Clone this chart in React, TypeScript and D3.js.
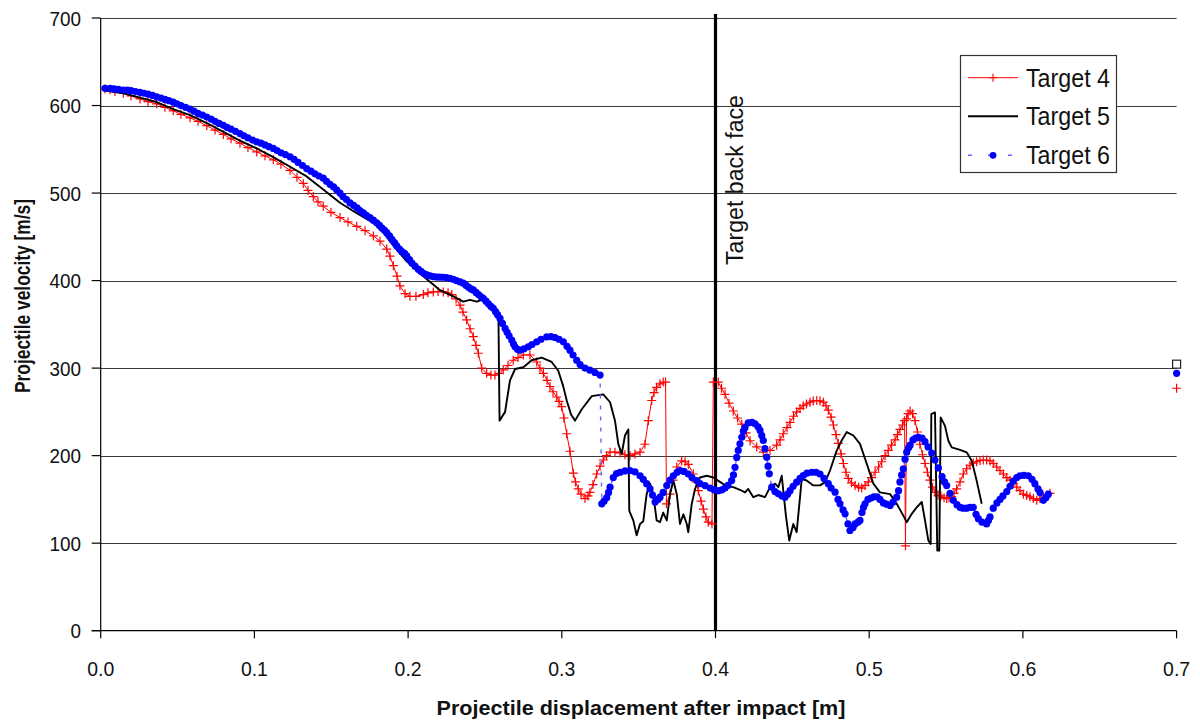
import React from 'react';
import * as d3 from 'd3';

type Pt = [number, number];

const X_TICKS = [0, 0.1, 0.2, 0.3, 0.4, 0.5, 0.6, 0.7];
const X_TICK_LABELS = ['0.0', '0.1', '0.2', '0.3', '0.4', '0.5', '0.6', '0.7'];
const Y_TICKS = [0, 100, 200, 300, 400, 500, 600, 700];
const SERIES_NAMES = ['Target 4', 'Target 5', 'Target 6'];
const X_TITLE = 'Projectile displacement after impact [m]';
const Y_TITLE = 'Projectile velocity [m/s]';
const BACK_FACE_LABEL = 'Target back face';
const BACK_FACE_X = 0.4;

const target4: Pt[] = [
  [0.0028, 619], [0.0061, 618], [0.0093, 616], [0.0147, 614], [0.0197, 611], [0.0256, 607.5], [0.0308, 604.5],
  [0.0364, 602], [0.0418, 598], [0.0472, 594], [0.0522, 590], [0.0581, 586], [0.0633, 582], [0.069, 577],
  [0.0744, 572], [0.0798, 567], [0.0848, 562], [0.0906, 557], [0.0958, 552], [0.1015, 547], [0.1069, 542.5],
  [0.1123, 538], [0.1173, 533], [0.1232, 526], [0.1277, 518], [0.1318, 511], [0.1349, 503], [0.1383, 496],
  [0.1414, 490], [0.1448, 485], [0.1498, 478], [0.1557, 472], [0.1609, 467], [0.1666, 462], [0.172, 457],
  [0.1774, 451], [0.1817, 445], [0.1861, 436], [0.1882, 428], [0.1904, 417], [0.1928, 405], [0.1947, 394],
  [0.198, 385], [0.2012, 382], [0.2051, 382], [0.2099, 384], [0.2129, 386], [0.2164, 387], [0.2195, 387.5],
  [0.2229, 387], [0.226, 386], [0.2284, 384], [0.2312, 379], [0.2338, 372], [0.2357, 364], [0.2381, 355],
  [0.2403, 345], [0.2424, 336], [0.2442, 326], [0.2457, 317], [0.2479, 300], [0.2511, 294], [0.2539, 292],
  [0.2565, 292], [0.2591, 294], [0.2619, 298], [0.265, 303], [0.2684, 309], [0.2715, 312], [0.275, 315],
  [0.2793, 315], [0.2837, 307], [0.2858, 300], [0.288, 294], [0.2904, 286], [0.2923, 279], [0.2943, 273],
  [0.2967, 267], [0.2982, 262], [0.2999, 256], [0.3014, 243], [0.3032, 225], [0.3053, 205], [0.3075, 180],
  [0.3089, 170], [0.3107, 162], [0.3125, 156], [0.3151, 151], [0.317, 154], [0.3183, 158], [0.3203, 167],
  [0.3227, 179], [0.3249, 188], [0.327, 195], [0.3291, 200], [0.3314, 204], [0.3346, 204], [0.3379, 203],
  [0.3411, 201], [0.3444, 200], [0.3476, 202], [0.3509, 204], [0.3541, 213], [0.3563, 240], [0.3585, 263],
  [0.36, 272], [0.3617, 278], [0.3639, 282], [0.366, 284], [0.3675, 284], [0.3681, 145], [0.3704, 156],
  [0.3724, 172], [0.3748, 187], [0.378, 194], [0.3802, 193], [0.3823, 190], [0.3856, 179], [0.3873, 170],
  [0.3888, 160], [0.3906, 148], [0.3921, 139], [0.3938, 130], [0.3953, 124], [0.3977, 122], [0.3986, 284],
  [0.4018, 284], [0.4039, 277], [0.4062, 270], [0.4088, 260], [0.4116, 251], [0.4143, 243], [0.4171, 236],
  [0.4199, 226], [0.4225, 217], [0.4268, 210], [0.4311, 204], [0.4355, 206], [0.4398, 212], [0.442, 218],
  [0.4441, 225], [0.4465, 232], [0.4485, 238], [0.4508, 245], [0.4528, 250], [0.455, 254], [0.4571, 257],
  [0.4592, 259], [0.4615, 261], [0.4636, 262.5], [0.4659, 263], [0.468, 262.5], [0.4702, 261], [0.4719, 257],
  [0.4734, 252], [0.4752, 244], [0.4767, 235], [0.4784, 224], [0.4799, 214], [0.4817, 202], [0.4832, 191],
  [0.4849, 181], [0.4864, 174], [0.4885, 169], [0.4908, 166], [0.4931, 164], [0.4951, 163], [0.4973, 166],
  [0.4994, 170], [0.5015, 175], [0.5038, 181], [0.5061, 187], [0.5081, 193], [0.5103, 200], [0.5124, 206],
  [0.5145, 212], [0.5168, 218], [0.5184, 224], [0.52, 230], [0.5217, 235], [0.523, 240], [0.5236, 97],
  [0.5243, 242], [0.5253, 248], [0.5266, 251], [0.5282, 248], [0.5298, 240], [0.5314, 227], [0.533, 213],
  [0.5347, 201], [0.5363, 191], [0.5379, 181], [0.5395, 172], [0.5412, 164], [0.5428, 158], [0.5448, 155],
  [0.5467, 154], [0.5487, 152], [0.5504, 151], [0.5519, 152], [0.5537, 153], [0.5552, 157], [0.5569, 162],
  [0.5591, 170], [0.5612, 179], [0.5634, 185], [0.5656, 189], [0.5677, 191.5], [0.5699, 193], [0.5721, 194.5],
  [0.5742, 195], [0.5764, 195], [0.5786, 194], [0.5807, 191], [0.583, 187], [0.5851, 183], [0.5873, 179],
  [0.5895, 175], [0.5916, 172], [0.5938, 168], [0.596, 164], [0.5981, 160], [0.6003, 156], [0.6025, 154.5],
  [0.6046, 153], [0.6068, 151], [0.609, 149], [0.6111, 151], [0.6133, 153], [0.6155, 155], [0.6176, 157],
];

const target5: Pt[] = [
  [0.0028, 617], [0.0147, 614], [0.0256, 609], [0.0364, 604], [0.0472, 596], [0.0581, 589], [0.069, 580],
  [0.0798, 570], [0.0906, 560], [0.1015, 551], [0.1123, 541], [0.1232, 530], [0.134, 519], [0.1448, 504],
  [0.1557, 489], [0.1666, 477], [0.1774, 466], [0.1839, 455], [0.1904, 440], [0.1991, 422], [0.2099, 405],
  [0.2208, 389], [0.2294, 382], [0.2359, 376], [0.2403, 378], [0.2446, 376], [0.2479, 378], [0.2533, 374],
  [0.2565, 366], [0.2588, 356], [0.2595, 240], [0.2631, 250], [0.2663, 286], [0.2696, 299], [0.275, 301],
  [0.2804, 309], [0.2869, 312], [0.2934, 307], [0.2977, 297], [0.3008, 280], [0.3032, 263], [0.306, 247],
  [0.3086, 240], [0.313, 253], [0.3195, 268], [0.327, 270], [0.3314, 261], [0.3346, 240], [0.3368, 213],
  [0.339, 202], [0.3411, 223], [0.3433, 230], [0.3439, 137], [0.3465, 126], [0.3487, 109], [0.3509, 122],
  [0.353, 125], [0.3552, 156], [0.3574, 168], [0.3595, 156], [0.3617, 126], [0.3639, 124], [0.366, 135],
  [0.3683, 126], [0.3704, 156], [0.3726, 171.5], [0.3748, 156], [0.3769, 122], [0.3791, 133], [0.3813, 122],
  [0.3823, 112.5], [0.3845, 144.5], [0.3867, 162], [0.3899, 175], [0.3943, 177], [0.3986, 175], [0.4029, 170],
  [0.4073, 165], [0.4116, 164], [0.4159, 161], [0.4192, 158], [0.4213, 162], [0.4246, 152.5], [0.4278, 155],
  [0.4322, 152.6], [0.4355, 164], [0.4387, 168], [0.4409, 164], [0.4431, 177], [0.4441, 160], [0.4459, 130],
  [0.448, 103], [0.4506, 122], [0.4528, 112.6], [0.455, 152.6], [0.4561, 173.5], [0.4593, 171.6], [0.4636, 166],
  [0.468, 166], [0.4713, 169.7], [0.4745, 183], [0.4789, 206], [0.4821, 217.3], [0.4854, 226.9], [0.4897, 223],
  [0.494, 213.5], [0.4984, 190.7], [0.5027, 168], [0.507, 158], [0.5136, 156], [0.5179, 145], [0.5222, 131.5],
  [0.5244, 124], [0.5277, 133.5], [0.5309, 141], [0.5342, 147], [0.5363, 126], [0.5385, 103], [0.54, 99],
  [0.5404, 247.5], [0.5428, 249.4], [0.5443, 91.6], [0.5456, 91.6], [0.5465, 243.7], [0.5493, 234],
  [0.5515, 217], [0.5537, 209.5], [0.5591, 206.5], [0.5634, 203.8], [0.5667, 194.3], [0.5699, 171.5],
  [0.5732, 145],
];

const target6: Pt[] = [
  [0.0028, 619.6], [0.0061, 619.5], [0.0087, 619], [0.0116, 618.5], [0.0147, 617.7], [0.0174, 617.5],
  [0.0197, 617], [0.0226, 616], [0.0256, 615], [0.0282, 614], [0.0308, 613], [0.0337, 611.5], [0.0364, 610],
  [0.0392, 608.5], [0.0418, 607], [0.0444, 605.5], [0.0472, 603.8], [0.0496, 602], [0.0522, 600], [0.0552, 598],
  [0.0581, 596], [0.0607, 593.5], [0.0633, 591], [0.0662, 589], [0.069, 586.8], [0.0718, 584.5], [0.0744, 582],
  [0.077, 579.5], [0.0798, 577.4], [0.0822, 575], [0.0848, 573], [0.0877, 570.5], [0.0906, 568], [0.0932, 565.5],
  [0.0958, 563], [0.0988, 560.5], [0.1015, 558.5], [0.1043, 557], [0.1069, 555], [0.1095, 553], [0.1123, 551],
  [0.1147, 548.5], [0.1173, 546], [0.1202, 544], [0.1232, 541.5], [0.1258, 538.5], [0.1284, 535], [0.1313, 531.5],
  [0.134, 528], [0.1368, 525], [0.1394, 522], [0.142, 519.5], [0.1448, 517], [0.1469, 513.5], [0.1492, 510],
  [0.1515, 507], [0.1535, 503.8], [0.1557, 500], [0.1576, 496], [0.1599, 492.5], [0.1622, 488.7], [0.1645, 486],
  [0.1668, 483], [0.1687, 480], [0.1709, 477.3], [0.1729, 474.5], [0.1752, 472], [0.1774, 469], [0.1796, 466],
  [0.1814, 463], [0.183, 460], [0.1847, 457.5], [0.1861, 454.7], [0.1879, 451], [0.1895, 447], [0.1912, 443.5],
  [0.1926, 439.6], [0.1944, 436], [0.196, 433], [0.1977, 431], [0.1991, 428.3], [0.2009, 424], [0.2025, 420],
  [0.2045, 416.5], [0.2066, 413], [0.2084, 410.5], [0.2103, 408], [0.2123, 406.5], [0.2143, 405.3], [0.2165, 404.5],
  [0.2188, 404], [0.2208, 404], [0.2229, 403.8], [0.225, 403.5], [0.2273, 402.5], [0.2294, 401.5], [0.2315, 400],
  [0.2338, 398.5], [0.2359, 397], [0.2377, 394.5], [0.2393, 392.5], [0.2409, 390.5], [0.2424, 389.3], [0.2442, 386.5],
  [0.2458, 384], [0.2475, 381.5], [0.2489, 379.7], [0.2507, 376.5], [0.2523, 373.5], [0.2539, 370.5], [0.2554, 368.3],
  [0.2569, 364.5], [0.2582, 361], [0.2598, 356.8], [0.2614, 351], [0.2631, 345.4], [0.2644, 341], [0.2657, 337],
  [0.2674, 332], [0.2686, 327.5], [0.2696, 324.3], [0.2712, 321.5], [0.2728, 320.5], [0.2754, 322], [0.2782, 324.3],
  [0.2806, 327], [0.2837, 330], [0.2865, 333], [0.2902, 335.8], [0.293, 336], [0.2956, 335], [0.2982, 333],
  [0.301, 330], [0.3034, 325], [0.3053, 320.5], [0.3073, 315], [0.3097, 309], [0.3119, 304], [0.3151, 300],
  [0.3183, 297.6], [0.3216, 295], [0.3249, 292], [0.326, 145], [0.3275, 148], [0.3292, 152], [0.3304, 158],
  [0.3314, 164], [0.3335, 175], [0.3356, 179.5], [0.3379, 181], [0.3411, 182.5], [0.3444, 183], [0.3476, 181.5],
  [0.3509, 177], [0.353, 173], [0.3552, 168], [0.3574, 162], [0.359, 155], [0.3607, 147], [0.3626, 150],
  [0.3639, 152.5], [0.3659, 158], [0.3683, 165.8], [0.3704, 172], [0.3726, 177], [0.375, 181], [0.3769, 183],
  [0.3795, 182], [0.3823, 179], [0.3847, 175], [0.3878, 171.5], [0.3899, 168], [0.3932, 165.8], [0.3965, 163],
  [0.3991, 161], [0.4018, 160], [0.4042, 161], [0.4062, 163], [0.4081, 166], [0.4105, 171.5], [0.4117, 178],
  [0.4127, 186.7], [0.4138, 198], [0.4148, 206], [0.4159, 213.5], [0.4171, 221], [0.4181, 228], [0.4192, 232],
  [0.4213, 237.5], [0.4238, 238], [0.4257, 236.4], [0.4277, 233], [0.429, 228.8], [0.4301, 223], [0.4311, 217.3],
  [0.4322, 208], [0.4333, 198.3], [0.4342, 188], [0.435, 179.2], [0.4366, 164], [0.4387, 159], [0.4409, 156.4],
  [0.4433, 154], [0.4452, 152.6], [0.4469, 156], [0.4485, 160], [0.4505, 165], [0.4528, 169.7], [0.455, 174],
  [0.4571, 177.3], [0.4595, 180], [0.4626, 181], [0.4654, 181], [0.468, 179], [0.4706, 174], [0.4734, 168],
  [0.4752, 163], [0.4778, 158.3], [0.4797, 150], [0.481, 145], [0.483, 138], [0.4843, 133.5], [0.4862, 122],
  [0.4875, 114.5], [0.4895, 118], [0.4908, 122], [0.4927, 124], [0.494, 126], [0.4953, 135], [0.4963, 141],
  [0.4973, 145], [0.4992, 150], [0.5012, 151.5], [0.5031, 153], [0.5051, 153], [0.507, 150], [0.5092, 146],
  [0.5113, 144.5], [0.5136, 143], [0.5155, 147], [0.5179, 152.6], [0.5191, 160], [0.52, 170], [0.5211, 178],
  [0.5222, 185], [0.5233, 196], [0.5244, 204], [0.5256, 209], [0.5266, 212], [0.5285, 218], [0.5302, 220],
  [0.532, 221], [0.5344, 220], [0.5363, 216], [0.5383, 210], [0.5407, 203], [0.5428, 195], [0.545, 186],
  [0.5474, 176], [0.549, 170], [0.5504, 165.8], [0.5526, 157], [0.5547, 149], [0.5571, 144], [0.5591, 141],
  [0.561, 140], [0.5634, 140], [0.5656, 141], [0.5677, 141], [0.5695, 133], [0.571, 128], [0.5734, 124],
  [0.5764, 122], [0.5776, 126], [0.5786, 130], [0.5807, 140], [0.5831, 146], [0.5851, 150], [0.587, 154],
  [0.5895, 159], [0.5916, 165], [0.5938, 171], [0.596, 175], [0.5981, 177], [0.6007, 177.5], [0.6035, 177],
  [0.6059, 173], [0.6078, 168], [0.6098, 162], [0.6111, 158], [0.6133, 149], [0.615, 152], [0.6165, 156],
];

// isolated points plotted at x = 0.7
const extra4: Pt[] = [[0.7, 277]];
const extra5: Pt[] = [[0.7, 304.5]];
const extra6: Pt[] = [[0.7, 294]];

const RED = '#ff0000';
const BLUE = '#0000ff';
const BLUE_LINE = '#6666ff';
const FONT = '"Liberation Sans", Arial, sans-serif';

export default function App() {
  const W = 1200;
  const H = 727;
  const x = d3.scaleLinear().domain([0, 0.7]).range([100.7, 1176.6]);
  const y = d3.scaleLinear().domain([0, 700]).range([630.7, 18]);
  const line = d3.line<Pt>().x((d) => x(d[0])).y((d) => y(d[1]));

  const plusPath = (cx: number, cy: number, s = 4.5) =>
    `M${cx - s},${cy}H${cx + s}M${cx},${cy - s}V${cy + s}`;

  const x0 = x(0);
  const x1 = x(0.7);
  const bfx = x(BACK_FACE_X);

  const legendRows = [77.7, 116.3, 155.3];

  return (
    <svg width={W} height={H} style={{ position: 'absolute', left: 0, top: 0, background: '#fff' }}>
      <rect x={0} y={0} width={W} height={H} fill="#fff" />
      {/* gridlines */}
      {Y_TICKS.filter((t) => t > 0).map((t) => (
        <line key={'g' + t} x1={x0} x2={x1} y1={Math.round(y(t)) + 0.5} y2={Math.round(y(t)) + 0.5} stroke="#3a3a3a" strokeWidth={1.2} />
      ))}
      {/* axes */}
      <line x1={x0} x2={x0} y1={y(700)} y2={y(0)} stroke="#000" strokeWidth={1.2} />
      <line x1={x0 - 9} x2={x1} y1={y(0)} y2={y(0)} stroke="#000" strokeWidth={1.2} />
      {Y_TICKS.map((t) => (
        <g key={'yt' + t}>
          <line x1={x0 - 9} x2={x0} y1={y(t)} y2={y(t)} stroke="#000" strokeWidth={1.2} />
          <text
            x={81}
            y={y(t) + 7.5}
            textAnchor="end"
            fontFamily={FONT}
            fontSize={20.5}
            fill="#111"
            textLength={String(t).length * 10.5}
            lengthAdjust="spacingAndGlyphs"
          >
            {String(t)}
          </text>
        </g>
      ))}
      {X_TICKS.map((t, i) => (
        <g key={'xt' + t}>
          <line x1={x(t)} x2={x(t)} y1={y(0)} y2={y(0) + 7.5} stroke="#000" strokeWidth={1.2} />
          <text
            x={x(t)}
            y={676}
            textAnchor="middle"
            fontFamily={FONT}
            fontSize={21}
            fill="#111"
            textLength={27}
            lengthAdjust="spacingAndGlyphs"
          >
            {X_TICK_LABELS[i]}
          </text>
        </g>
      ))}
      {/* axis titles */}
      <text
        x={641}
        y={715}
        textAnchor="middle"
        fontFamily={FONT}
        fontWeight="bold"
        fontSize={20.5}
        fill="#111"
        textLength={409}
        lengthAdjust="spacingAndGlyphs"
      >
        {X_TITLE}
      </text>
      <text
        transform={`translate(30,296) rotate(-90)`}
        textAnchor="middle"
        fontFamily={FONT}
        fontWeight="bold"
        fontSize={21.5}
        fill="#111"
        textLength={194}
        lengthAdjust="spacingAndGlyphs"
      >
        {Y_TITLE}
      </text>

      {/* back face line */}
      <line x1={bfx} x2={bfx} y1={14} y2={y(0)} stroke="#000" strokeWidth={3.2} />
      <text
        transform={`translate(743,265) rotate(-90)`}
        textAnchor="start"
        fontFamily={FONT}
        fontSize={23}
        fill="#111"
        textLength={170}
        lengthAdjust="spacingAndGlyphs"
      >
        {BACK_FACE_LABEL}
      </text>

      {/* Target 4 */}
      <path d={line(target4) || ''} fill="none" stroke={RED} strokeWidth={1} />
      <path
        d={target4.concat(extra4).map((d) => plusPath(x(d[0]), y(d[1]))).join('')}
        fill="none"
        stroke={RED}
        strokeWidth={1.2}
      />
      {/* Target 5 */}
      <path d={line(target5) || ''} fill="none" stroke="#000" strokeWidth={1.9} strokeLinejoin="round" />
      {extra5.map((d, i) => (
        <rect key={'e5' + i} x={x(d[0]) - 4} y={y(d[1]) - 4} width={8} height={8} fill="#fff" stroke="#222" strokeWidth={1.2} />
      ))}
      {/* Target 6 */}
      <path d={line(target6) || ''} fill="none" stroke={BLUE_LINE} strokeWidth={1.4} strokeDasharray="4,7" />
      {target6.concat(extra6).map((d, i) => (
        <circle key={'c6' + i} cx={x(d[0])} cy={y(d[1])} r={3.6} fill={BLUE} />
      ))}

      {/* legend */}
      <rect x={960.5} y={55.5} width={156} height={117} fill="#fff" stroke="#333" strokeWidth={1.2} />
      <line x1={968} x2={1018} y1={legendRows[0]} y2={legendRows[0]} stroke={RED} strokeWidth={1} />
      <path d={plusPath(993, legendRows[0], 4)} stroke={RED} strokeWidth={1.1} fill="none" />
      <line x1={968} x2={1018} y1={legendRows[1]} y2={legendRows[1]} stroke="#000" strokeWidth={2} />
      <line x1={968} x2={1018} y1={legendRows[2]} y2={legendRows[2]} stroke={BLUE_LINE} strokeWidth={1.4} strokeDasharray="4,16" />
      <circle cx={993} cy={legendRows[2]} r={3.4} fill={BLUE} />
      {SERIES_NAMES.map((n, i) => (
        <text
          key={n}
          x={1026}
          y={legendRows[i] + 9}
          fontFamily={FONT}
          fontSize={25}
          fill="#111"
          textLength={84}
          lengthAdjust="spacingAndGlyphs"
        >
          {n}
        </text>
      ))}
    </svg>
  );
}
